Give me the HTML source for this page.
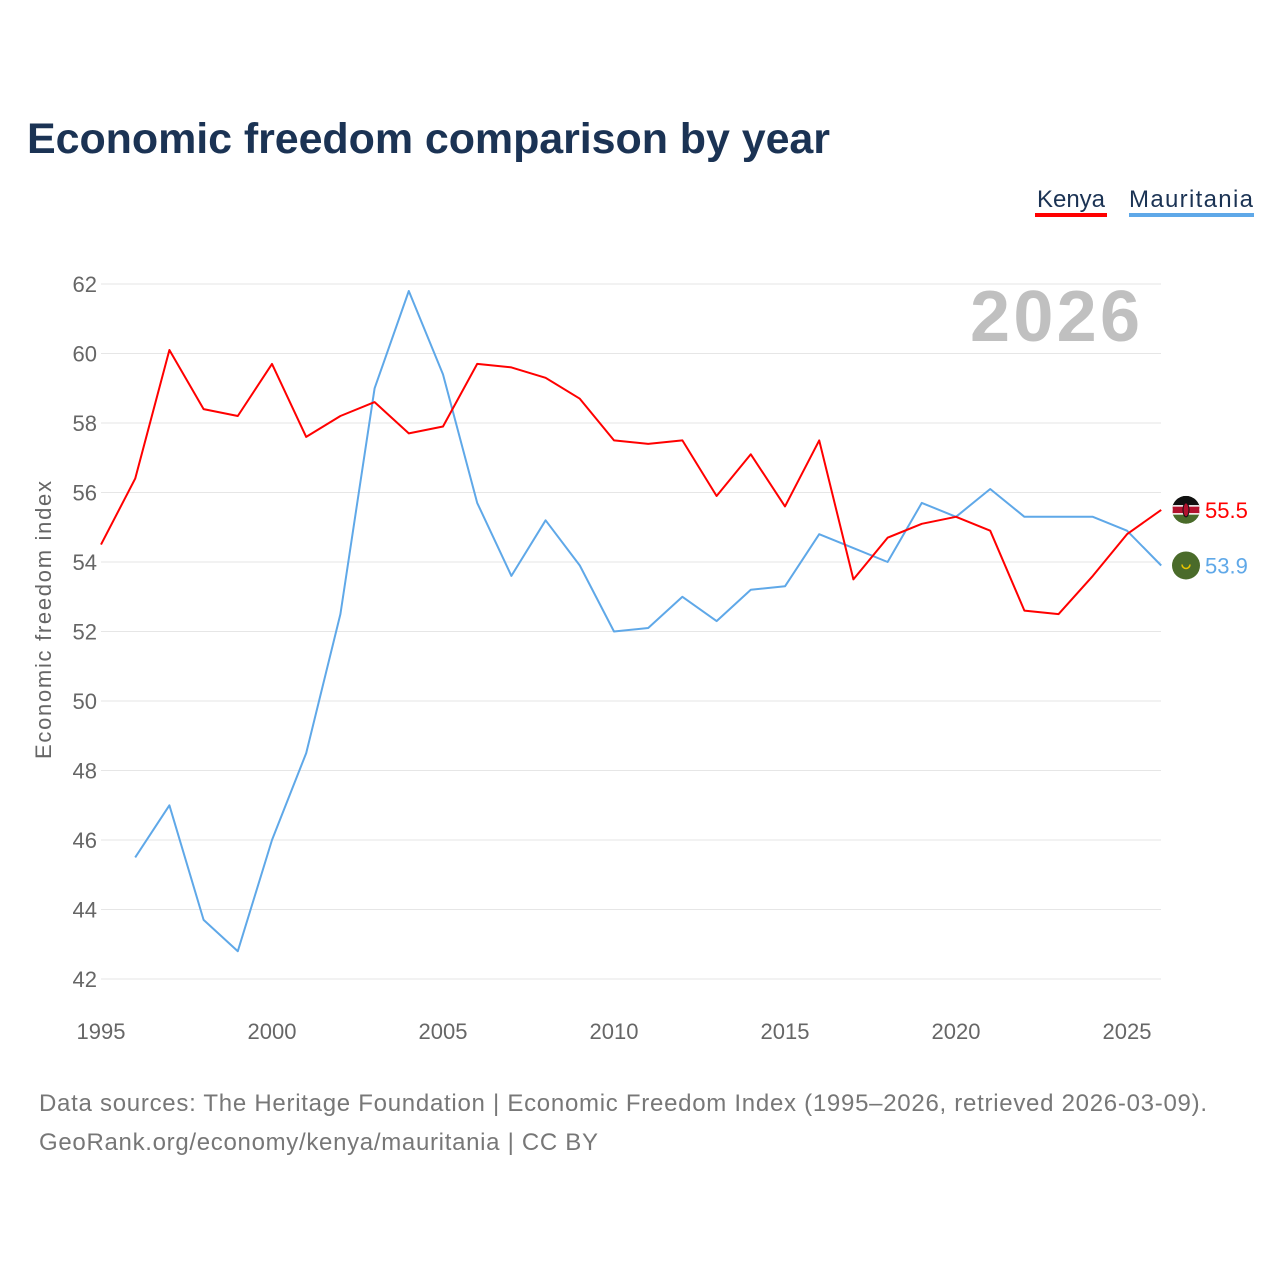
<!DOCTYPE html>
<html><head><meta charset="utf-8"><style>
body{margin:0;background:#fff;font-family:"Liberation Sans",sans-serif;}
#wrap{position:relative;width:1280px;height:1280px;overflow:hidden;}
</style></head><body>
<div id="wrap">
<svg id="svg" width="1280" height="1280" xmlns="http://www.w3.org/2000/svg">
<defs><clipPath id="kc"><circle cx="1186" cy="509" r="14"/></clipPath></defs>
<text x="27" y="153" font-size="43" font-weight="bold" fill="#1b3354" textLength="803">Economic freedom comparison by year</text>
<g><text x="1071" y="207" font-size="24" fill="#1b3354" text-anchor="middle">Kenya</text><rect x="1035" y="213" width="72" height="4" fill="#ff0000"/></g>
<g><text x="1191" y="207" font-size="24" fill="#1b3354" text-anchor="middle" textLength="124">Mauritania</text><rect x="1129" y="213" width="125" height="4" fill="#5fa8e8"/></g>
<text x="1140" y="341" font-size="72" font-weight="bold" fill="#c0c0c0" text-anchor="end" textLength="170">2026</text>
<text transform="translate(51,620) rotate(-90)" font-size="22" fill="#666" text-anchor="middle" textLength="278">Economic freedom index</text>
<g id="grid"></g><g id="yt"></g><g id="xt"></g><g id="lines"></g>
<text x="39" y="1111" font-size="24" fill="#777" textLength="1168">Data sources: The Heritage Foundation | Economic Freedom Index (1995–2026, retrieved 2026-03-09).</text>
<text x="39" y="1150" font-size="24" fill="#777" textLength="559">GeoRank.org/economy/kenya/mauritania | CC BY</text>
</svg></div>
<script>
const years=[1995,1996,1997,1998,1999,2000,2001,2002,2003,2004,2005,2006,2007,2008,2009,2010,2011,2012,2013,2014,2015,2016,2017,2018,2019,2020,2021,2022,2023,2024,2025,2026];
const kenya=[54.5,56.4,60.1,58.4,58.2,59.7,57.6,58.2,58.6,57.7,57.9,59.7,59.6,59.3,58.7,57.5,57.4,57.5,55.9,57.1,55.6,57.5,53.5,54.7,55.1,55.3,54.9,52.6,52.5,53.6,54.8,55.5];
const mauritania=[null,45.5,47.0,43.7,42.8,46.0,48.5,52.5,59.0,61.8,59.4,55.7,53.6,55.2,53.9,52.0,52.1,53.0,52.3,53.2,53.3,54.8,54.4,54.0,55.7,55.3,56.1,55.3,55.3,55.3,54.9,53.9];
const yTicks=[42,44,46,48,50,52,54,56,58,60,62];
const xTicks=[1995,2000,2005,2010,2015,2020,2025];
const NS="http://www.w3.org/2000/svg";
const X=y=>101+(y-1995)*34.2;
const Y=v=>979-(v-42)*34.75;
function mk(t,a,p){const e=document.createElementNS(NS,t);for(const k in a)e.setAttribute(k,a[k]);p.appendChild(e);return e;}
const grid=document.getElementById('grid'),yt=document.getElementById('yt'),xt=document.getElementById('xt'),lines=document.getElementById('lines');
yTicks.forEach(v=>{
 const l=mk('line',{x1:101,x2:1161,y1:Y(v),y2:Y(v),stroke:'#e6e6e6','stroke-width':1},grid);
 
 
 const t=mk('text',{x:97,y:Y(v)+8,'font-size':22,fill:'#666','text-anchor':'end'},yt);t.textContent=v;
 
 
});
xTicks.forEach(v=>{
 const t=mk('text',{x:X(v),y:1039,'font-size':22,fill:'#666','text-anchor':'middle'},xt);t.textContent=v;
 
 
});
function series(vals,color,name,kenyaFlag){
 let d='';let pen=false;
 vals.forEach((v,i)=>{if(v==null){pen=false;return;}d+=(pen?'L':'M')+X(years[i]).toFixed(1)+','+Y(v).toFixed(1);pen=true;});
 const p=mk('path',{d:d,fill:'none',stroke:color,'stroke-width':2,'stroke-linejoin':'round'},lines);
 
 
 const last=vals[vals.length-1];
 const cy=Y(last);
 const g=mk('g',{},lines);
 
 
 if(kenyaFlag){
  document.querySelector('#kc circle').setAttribute('cy',cy);
  g.setAttribute('clip-path','url(#kc)');
  mk('circle',{cx:1186,cy:cy,r:14,fill:'#4a6b2a'},g);
  mk('rect',{x:1172,y:cy-14,width:28,height:10,fill:'#111'},g);
  mk('rect',{x:1172,y:cy-4,width:28,height:8,fill:'#b3122e',stroke:'#fff','stroke-width':1.5},g);
  mk('ellipse',{cx:1186,cy:cy,rx:3,ry:7,fill:'#b3122e',stroke:'#111','stroke-width':1},g);
 } else {
  mk('circle',{cx:1186,cy:cy,r:14,fill:'#4a6b2a'},g);
  mk('path',{d:`M1182,${cy-1} a4,4 0 0 0 8,0`,fill:'none',stroke:'#e8c300','stroke-width':1.5},g);
 }
 const t=mk('text',{x:1205,y:cy+8,'font-size':22,fill:color},lines);t.textContent=last.toFixed(1);
 
 
}
series(mauritania,'#5fa8e8','mauritania',false);
series(kenya,'#ff0000','kenya',true);
</script>
</body></html>
